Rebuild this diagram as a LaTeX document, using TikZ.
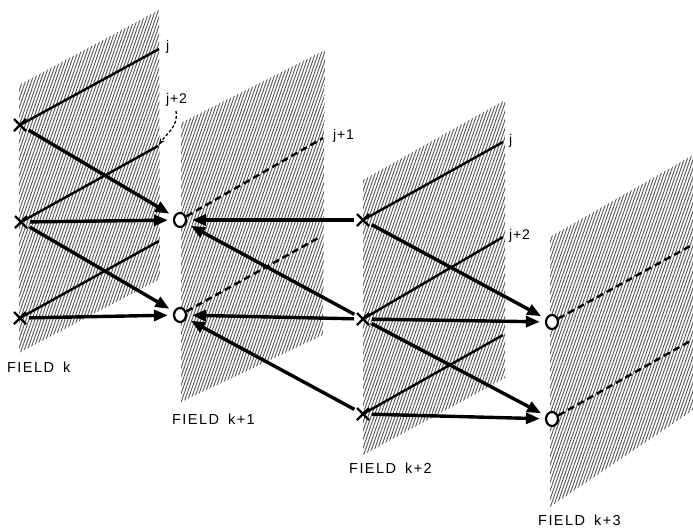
\documentclass[tikz,border=0pt]{standalone}
\usepackage{fontspec}
\setmainfont{Liberation Sans}
\usetikzlibrary{arrows.meta,shapes.misc,shapes.geometric}

\begin{document}
\begin{tikzpicture}[x=1pt,y=-1pt,
  hatch/.style={black!66, line width=0.9pt},
  xmark/.style={cross out, draw, line width=2.4pt, minimum size=12pt, inner sep=0pt, outer sep=0pt},
  omark/.style={ellipse, draw, fill=white, line width=2.2pt, minimum width=12pt, minimum height=14pt, inner sep=0pt},
  flow/.style={-{Triangle[length=14pt,width=11pt]}, line width=3.4pt, shorten >=5pt, shorten <=3pt},
  trace/.style={line width=2.4pt},
  dtrace/.style={line width=2.4pt, dash pattern=on 7pt off 4pt},
  lbl/.style={font=\fontsize{14}{14}\selectfont\addfontfeature{LetterSpace=6}, inner sep=0pt, anchor=west},
  fld/.style={font=\fontsize{14.5}{14.5}\selectfont\addfontfeature{LetterSpace=10}, inner sep=0pt, anchor=west}
]
\useasboundingbox (0,0) rectangle (693,528);

% hatched field planes
\begin{scope}
  \clip (19,85) -- (159,10) -- (160,279) -- (19,353) -- cycle;
  \foreach \i in {-170,-167,...,165} \draw[hatch] (\i,528) -- ++(185,-528);
\end{scope}
\begin{scope}
  \clip (181,123) -- (325,50) -- (323,335) -- (181,402) -- cycle;
  \foreach \i in {-10,-7,...,330} \draw[hatch] (\i,528) -- ++(185,-528);
\end{scope}
\begin{scope}
  \clip (363,180) -- (505,100) -- (505,378) -- (363,455) -- cycle;
  \foreach \i in {170,173,...,510} \draw[hatch] (\i,528) -- ++(185,-528);
\end{scope}
\begin{scope}
  \clip (550,237) -- (693,155) -- (693,410) -- (550,507) -- cycle;
  \foreach \i in {360,363,...,695} \draw[hatch] (\i,528) -- ++(185,-528);
\end{scope}

% sample points of field k
\node[xmark] (ka) at (20,125) {};
\node[xmark] (kb) at (21,222) {};
\node[xmark] (kc) at (20,318) {};
% interpolated points of field k+1
\node[omark] (pa) at (180,220) {};
\node[omark] (pb) at (180,315) {};
% sample points of field k+2
\node[xmark] (ma) at (363,220) {};
\node[xmark] (mb) at (363,319) {};
\node[xmark] (mc) at (363,414) {};
% interpolated points of field k+3
\node[omark] (qa) at (552,322) {};
\node[omark] (qb) at (552,419) {};

% scan line ends
\coordinate (kaE) at (159,49);
\coordinate (kbE) at (158,146);
\coordinate (kcE) at (159,241);
\coordinate (paE) at (323,138);
\coordinate (pbE) at (320,237);
\coordinate (maE) at (503,142);
\coordinate (mbE) at (503,237);
\coordinate (mcE) at (503,335);
\coordinate (qaE) at (692,245);
\coordinate (qbE) at (692,340);

% scan lines
\draw[trace] (ka.center) -- (kaE);
\draw[trace] (kb.center) -- (kbE);
\draw[trace] (kc.center) -- (kcE);
\draw[trace] (ma.center) -- (maE);
\draw[trace] (mb.center) -- (mbE);
\draw[trace] (mc.center) -- (mcE);
\draw[dtrace] (pa) -- (paE);
\draw[dtrace] (pb) -- (pbE);
\draw[dtrace] (qa) -- (qaE);
\draw[dtrace] (qb) -- (qbE);

% line labels
\node[lbl] (lj) at (166,47) {j};
\node[lbl] (lj2) at (166,100) {j+2};
\node[lbl] (lj1) at (333,136) {j+1};
\node[lbl] (mj) at (509,141) {j};
\node[lbl] (mj2) at (509,236) {j+2};
\draw[line width=1.3pt, dash pattern=on 3pt off 2pt, -{Stealth[length=7pt,width=5pt]}, shorten >=1pt]
  (176,111) to[out=-80,in=55] (kbE);

% interpolation arrows into field k+1
\draw[flow] (ka) -- (pa);
\draw[flow] (kb) -- (pa);
\draw[flow] (kb) -- (pb);
\draw[flow] (kc) -- (pb);
\draw[flow] (ma) -- (pa);
\draw[flow] (mb) -- (pa);
\draw[flow] (mb) -- (pb);
\draw[flow] (mc) -- (pb);
% interpolation arrows into field k+3
\draw[flow] (ma) -- (qa);
\draw[flow] (mb) -- (qa);
\draw[flow] (mb) -- (qb);
\draw[flow] (mc) -- (qb);

% field captions
\node[fld] (fk) at (7,367) {FIELD\hspace{9pt}k};
\node[fld] (fk1) at (172,419) {FIELD\hspace{9pt}k+1};
\node[fld] (fk2) at (349,468) {FIELD\hspace{9pt}k+2};
\node[fld] (fk3) at (538,520) {FIELD\hspace{9pt}k+3};
\end{tikzpicture}
\end{document}
